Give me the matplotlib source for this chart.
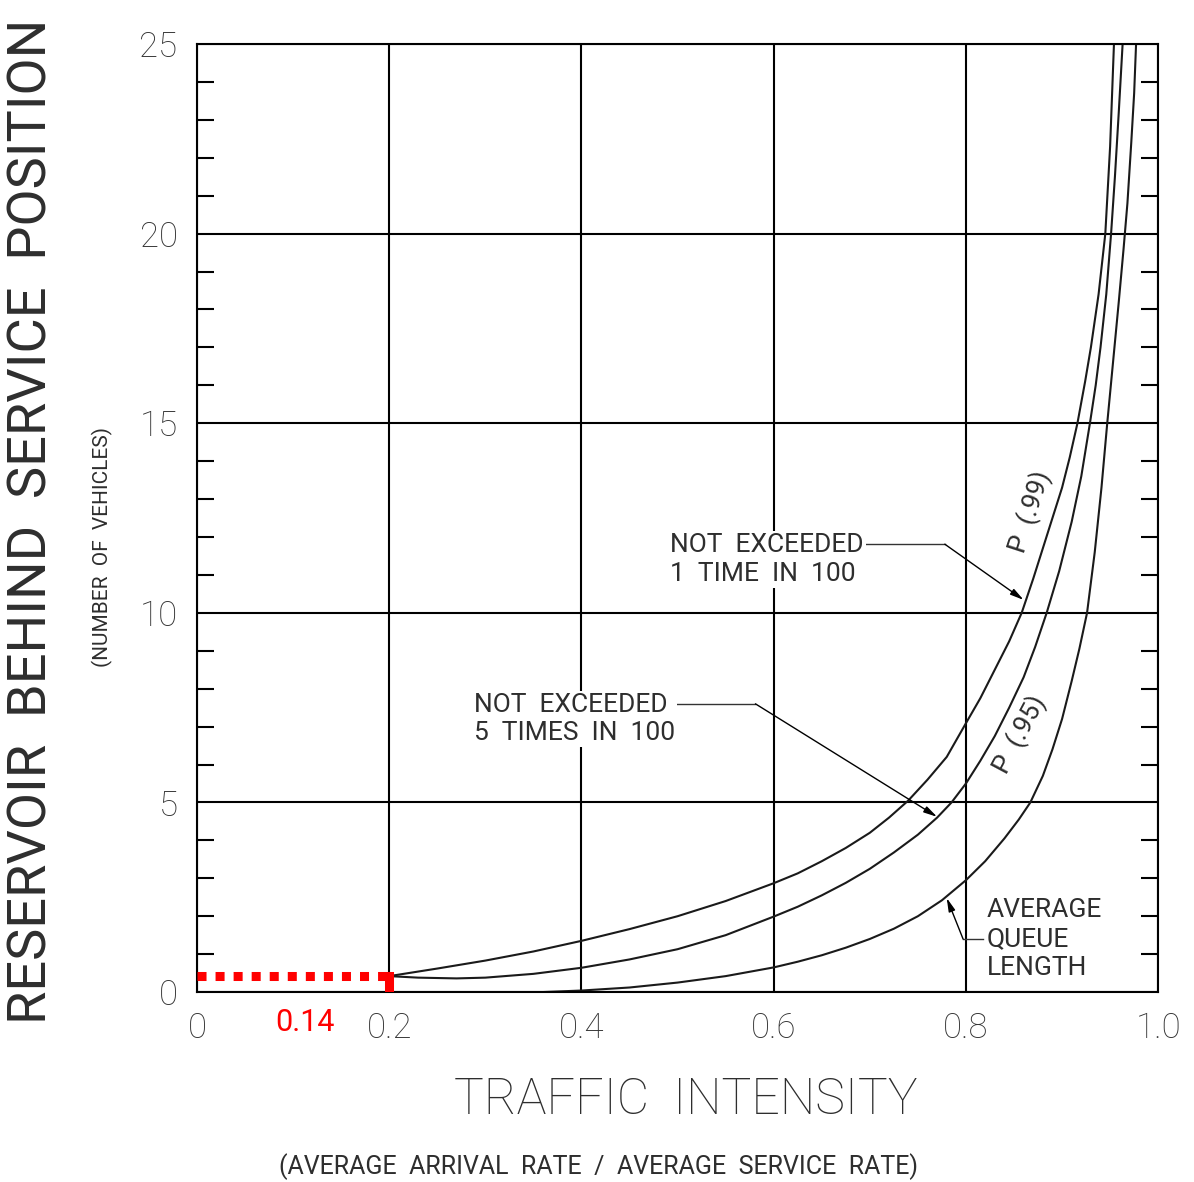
import matplotlib
matplotlib.use("Agg")
import matplotlib.pyplot as plt
from matplotlib.ticker import MultipleLocator

# --- data ---
# P(.99) curve: not exceeded 1 time in 100
x_p99 = [0.20, 0.25, 0.30, 0.35, 0.40, 0.45, 0.50, 0.55, 0.60, 0.625, 0.65, 0.675,
         0.70, 0.72, 0.74, 0.76, 0.78, 0.80, 0.815, 0.83, 0.845, 0.858, 0.87,
         0.88, 0.89, 0.90, 0.908, 0.916, 0.924, 0.93, 0.938, 0.945, 0.950, 0.954]
y_p99 = [0.42, 0.62, 0.83, 1.07, 1.35, 1.66, 2.00, 2.40, 2.87, 3.13, 3.45, 3.80,
         4.20, 4.60, 5.05, 5.60, 6.20, 7.09, 7.75, 8.50, 9.25, 10.0, 10.9,
         11.7, 12.5, 13.3, 14.1, 15.0, 16.1, 17.0, 18.4, 20.0, 22.3, 25.0]

# P(.95) curve: not exceeded 5 times in 100
x_p95 = [0.20, 0.23, 0.27, 0.30, 0.35, 0.40, 0.45, 0.50, 0.55, 0.60, 0.625, 0.65,
         0.675, 0.70, 0.725, 0.75, 0.77, 0.785, 0.80, 0.815, 0.83, 0.845, 0.86,
         0.872, 0.884, 0.897, 0.91, 0.92, 0.929, 0.935, 0.94, 0.946, 0.951,
         0.955, 0.959, 0.963]
y_p95 = [0.42, 0.38, 0.36, 0.38, 0.48, 0.64, 0.86, 1.13, 1.50, 1.99, 2.25, 2.55,
         2.88, 3.25, 3.68, 4.15, 4.60, 5.0, 5.50, 6.10, 6.75, 7.50, 8.30,
         9.10, 10.0, 11.1, 12.4, 13.6, 15.0, 16.0, 17.0, 18.4, 20.0,
         21.5, 23.2, 25.0]

# average queue length
x_avg = [0.36, 0.40, 0.45, 0.50, 0.55, 0.60, 0.625, 0.65, 0.675, 0.70, 0.725,
         0.75, 0.775, 0.80, 0.82, 0.84, 0.855, 0.867, 0.88, 0.89, 0.90, 0.91,
         0.918, 0.926, 0.934, 0.941, 0.947, 0.953, 0.959, 0.964, 0.968, 0.972,
         0.975, 0.977]
y_avg = [0.0, 0.04, 0.12, 0.25, 0.42, 0.65, 0.80, 0.97, 1.17, 1.40, 1.67,
         2.00, 2.42, 2.95, 3.45, 4.05, 4.55, 5.0, 5.70, 6.40, 7.20, 8.20,
         9.05, 10.0, 11.6, 13.3, 15.0, 16.6, 18.2, 19.6, 20.8, 22.4,
         23.7, 25.0]

# red reading marker
mark_x = 0.2
mark_y = 0.42
mark_label = "0.14"

xticks = [0, 0.2, 0.4, 0.6, 0.8, 1.0]
xticklabels = ["0", "0.2", "0.4", "0.6", "0.8", "1.0"]
yticks = [0, 5, 10, 15, 20, 25]

TXT = "#2e2e2e"
plt.rcParams["font.family"] = ["Roboto", "DejaVu Sans"]
plt.rcParams["font.weight"] = "light"

fig = plt.figure(figsize=(11.94, 11.82), dpi=100)
ax = fig.add_axes([0.165, 0.1607, 0.805, 0.8021])

ax.set_xlim(0, 1.0)
ax.set_ylim(0, 25)
ax.set_xticks(xticks)
ax.set_xticklabels(xticklabels)
ax.set_yticks(yticks)
ax.yaxis.set_minor_locator(MultipleLocator(1))
ax.grid(True, which="major", color="black", linewidth=1.5)
ax.tick_params(which="major", length=0, pad=14, labelsize=25, labelcolor="#333333")
ax.tick_params(axis="y", which="minor", direction="in", length=12, width=1.5,
               left=True, right=True)
ax.tick_params(axis="x", which="minor", bottom=False)
for sp in ax.spines.values():
    sp.set_linewidth(1.5)

# curves
for xs, ys in [(x_p99, y_p99), (x_p95, y_p95), (x_avg, y_avg)]:
    ax.plot(xs, ys, color="#1a1a1a", linewidth=1.5)

# red dotted reading line
ax.plot([0, mark_x], [mark_y, mark_y], color="red", linestyle=(0, (1, 1)),
        linewidth=6.5, dash_capstyle="butt", zorder=5)
ax.plot([mark_x, mark_x], [mark_y, 0.1], color="red", linewidth=6.5, zorder=5)
ax.text(0.112, -0.8, mark_label, color="red", fontsize=22, ha="center",
        va="center", fontweight="normal")

# annotations with leader lines
box = dict(facecolor="white", edgecolor="none", pad=1.5)
ann_kw = dict(fontsize=19, color=TXT, linespacing=1.25, fontweight="normal",
              bbox=box, zorder=4)
arrow_kw = dict(arrowstyle="-|>,head_length=0.8,head_width=0.2", color="black",
                lw=1.0, shrinkA=0, shrinkB=0)

ax.text(0.492, 11.4, "NOT  EXCEEDED\n1  TIME  IN  100", ha="left", va="center", **ann_kw)
ax.plot([0.693, 0.778], [11.81, 11.81], color="#333333", lw=1.0)
ax.annotate("", xy=(0.860, 10.34), xytext=(0.778, 11.81), arrowprops=arrow_kw)

ax.text(0.288, 7.2, "NOT  EXCEEDED\n5  TIMES  IN  100", ha="left", va="center", **ann_kw)
ax.plot([0.490, 0.581], [7.6, 7.6], color="#333333", lw=1.0)
ax.annotate("", xy=(0.770, 4.62), xytext=(0.581, 7.6), arrowprops=arrow_kw)

ax.text(0.822, 1.40, "AVERAGE\nQUEUE\nLENGTH", ha="left", va="center", **ann_kw)
ax.plot([0.797, 0.818], [1.40, 1.40], color="#333333", lw=1.0)
ax.annotate("", xy=(0.780, 2.48), xytext=(0.797, 1.40), arrowprops=arrow_kw)

ax.text(0.867, 12.66, "P  (.99)", rotation=72, ha="center", va="center",
        fontsize=19, color=TXT, fontweight="normal")
ax.text(0.856, 6.78, "P  (.95)", rotation=62, ha="center", va="center",
        fontsize=19, color=TXT, fontweight="normal")

# axis titles
fig.text(0.027, 0.559, "RESERVOIR  BEHIND  SERVICE  POSITION", rotation=90,
         ha="center", va="center", fontsize=39, color=TXT, fontweight="normal")
fig.text(0.086, 0.537, "(NUMBER  OF  VEHICLES)", rotation=90, ha="center",
         va="center", fontsize=15, color=TXT, fontweight="normal")
fig.text(0.574, 0.069, "TRAFFIC  INTENSITY", ha="center", va="center",
         fontsize=36, color=TXT)
fig.text(0.501, 0.013, "(AVERAGE  ARRIVAL  RATE  /  AVERAGE  SERVICE  RATE)",
         ha="center", va="center", fontsize=18, color=TXT, fontweight="normal")

fig.savefig("out.png", dpi=100, facecolor="white")
